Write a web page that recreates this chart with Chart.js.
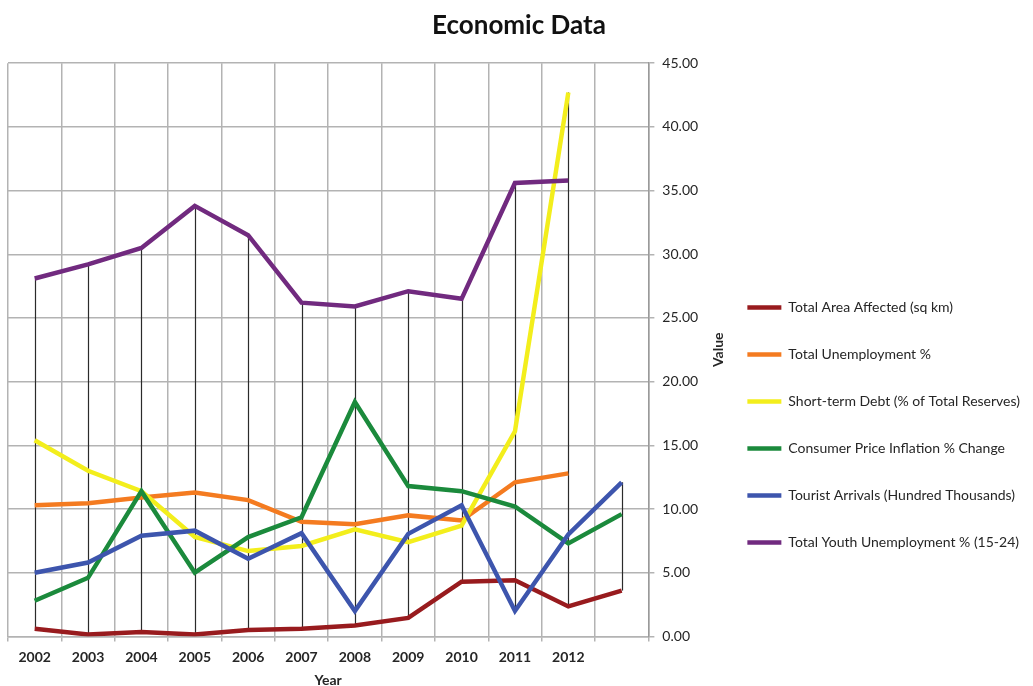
<!DOCTYPE html>
<html>
<head>
<meta charset="utf-8">
<title>Economic Data</title>
<script src="https://cdn.jsdelivr.net/npm/chart.js@4.4.1/dist/chart.umd.min.js"></script>
<style>
  html, body { margin: 0; padding: 0; background: #fff; }
  #wrap { width: 1033px; height: 686px; position: relative; }
</style>
</head>
<body>
<div id="wrap"><canvas id="econ"></canvas></div>
<script>
// ── Data ─────────────────────────────────────────────────
const years        = ['2002', '2003', '2004', '2005', '2006', '2007', '2008', '2009', '2010', '2011', '2012', ''];
const areaAffected = [0.6, 0.15, 0.35, 0.15, 0.5, 0.6, 0.85, 1.45, 4.3, 4.4, 2.35, 3.6];
const unemployment = [10.3, 10.45, 10.9, 11.3, 10.7, 9.0, 8.8, 9.5, 9.1, 12.1, 12.8, null];
const shortDebt    = [15.4, 13.0, 11.4, 7.8, 6.7, 7.1, 8.4, 7.4, 8.7, 16.1, 42.7, null];
const cpiInflation = [2.8, 4.6, 11.4, 5.0, 7.8, 9.35, 18.4, 11.8, 11.4, 10.2, 7.3, 9.6];
const touristArr   = [5.0, 5.8, 7.9, 8.3, 6.1, 8.1, 2.0, 8.05, 10.3, 2.0, 8.0, 12.1];
const youthUnemp   = [28.1, 29.2, 30.5, 33.8, 31.5, 26.2, 25.9, 27.1, 26.5, 35.6, 35.8, null];

const seriesNames = [
  'Total Area Affected (sq km)',
  'Total Unemployment %',
  'Short-term Debt (% of Total Reserves)',
  'Consumer Price Inflation % Change',
  'Tourist Arrivals (Hundred Thousands)',
  'Total Youth Unemployment % (15-24)',
];
const seriesData   = [areaAffected, unemployment, shortDebt, cpiInflation, touristArr, youthUnemp];
const seriesColors = ['#981b1e', '#f47b20', '#f3ee1c', '#1b8a3c', '#3d55ad', '#712a7f'];

const FONT = 'Lato, "Open Sans", sans-serif';
const TEXT = '#262626';
const GRID = '#b3b3b3';

// ── Plugins ──────────────────────────────────────────────
// Excel-style high-low lines: one thin line per category from lowest to highest value
const highLowLines = {
  id: 'highLowLines',
  beforeDatasetsDraw(chart) {
    const { ctx, scales: { x, y } } = chart;
    ctx.save();
    ctx.strokeStyle = '#2b2b2b';
    ctx.lineWidth = 1.2;
    years.forEach((_, i) => {
      const vals = seriesData.map(s => s[i]).filter(v => v !== null && v !== undefined);
      if (vals.length < 2) return;
      const px = Math.round(x.getPixelForValue(i)) + 0.5;
      ctx.beginPath();
      ctx.moveTo(px, y.getPixelForValue(Math.min(...vals)));
      ctx.lineTo(px, y.getPixelForValue(Math.max(...vals)));
      ctx.stroke();
    });
    ctx.restore();
  },
};

// Axis title on the right, reading bottom to top
const valueTitle = {
  id: 'valueTitle',
  afterDraw(chart) {
    const { ctx, chartArea } = chart;
    ctx.save();
    ctx.translate(chart.scales.y.right + 4, (chartArea.top + chartArea.bottom) / 2);
    ctx.rotate(-Math.PI / 2);
    ctx.font = `bold 14px ${FONT}`;
    ctx.fillStyle = TEXT;
    ctx.textAlign = 'center';
    ctx.textBaseline = 'middle';
    ctx.fillText('Value', 0, 0);
    ctx.restore();
  },
};

// ── Chart ────────────────────────────────────────────────
new Chart(document.getElementById('econ'), {
  type: 'line',
  data: {
    labels: years,
    datasets: seriesNames.map((name, i) => ({
      label: name,
      data: seriesData[i],
      borderColor: seriesColors[i],
      backgroundColor: seriesColors[i],
      borderWidth: 4.5,
      pointRadius: 0,
      pointHoverRadius: 0,
      tension: 0,
      order: seriesNames.length - i,
    })),
  },
  options: {
    responsive: true, maintainAspectRatio: false, animation: false,
    layout: { padding: { left: 8, right: 3, top: 0, bottom: 0 } },
    plugins: {
      title: {
        display: true, text: 'Economic Data', color: '#111',
        font: { family: FONT, size: 26, weight: 'bold' },
        padding: { top: 10, bottom: 22 },
      },
      legend: {
        position: 'right', align: 'start', maxWidth: 400,
        title: { display: true, text: ' ', padding: { top: 252, bottom: 0 }, font: { size: 13 } },
        labels: {
          color: TEXT, usePointStyle: true, pointStyle: 'line', pointStyleWidth: 34,
          padding: 33, font: { family: FONT, size: 14 },
          sort: (a, b) => a.datasetIndex - b.datasetIndex,
        },
      },
      tooltip: { enabled: false },
    },
    scales: {
      x: {
        offset: true,
        grid: { offset: true, color: GRID, lineWidth: 1.5, tickLength: 5 },
        border: { color: GRID, width: 1.5 },
        ticks: { color: TEXT, padding: 8, maxRotation: 0, autoSkip: false, font: { family: FONT, size: 14, weight: 'bold' } },
        title: { display: true, text: 'Year', color: TEXT, font: { family: FONT, size: 14, weight: 'bold' }, padding: { top: -2, bottom: -3 } },
      },
      y: {
        position: 'right', min: 0, max: 45,
        grid: { color: GRID, lineWidth: 1.5, tickLength: 6 },
        border: { color: '#9a9a9a', width: 1.5 },
        ticks: { stepSize: 5, color: TEXT, padding: 8, font: { family: FONT, size: 14 }, callback: v => v.toFixed(2) },
        afterFit: s => { s.width = 66; },
      },
    },
  },
  plugins: [highLowLines, valueTitle],
});
</script>
</body>
</html>
